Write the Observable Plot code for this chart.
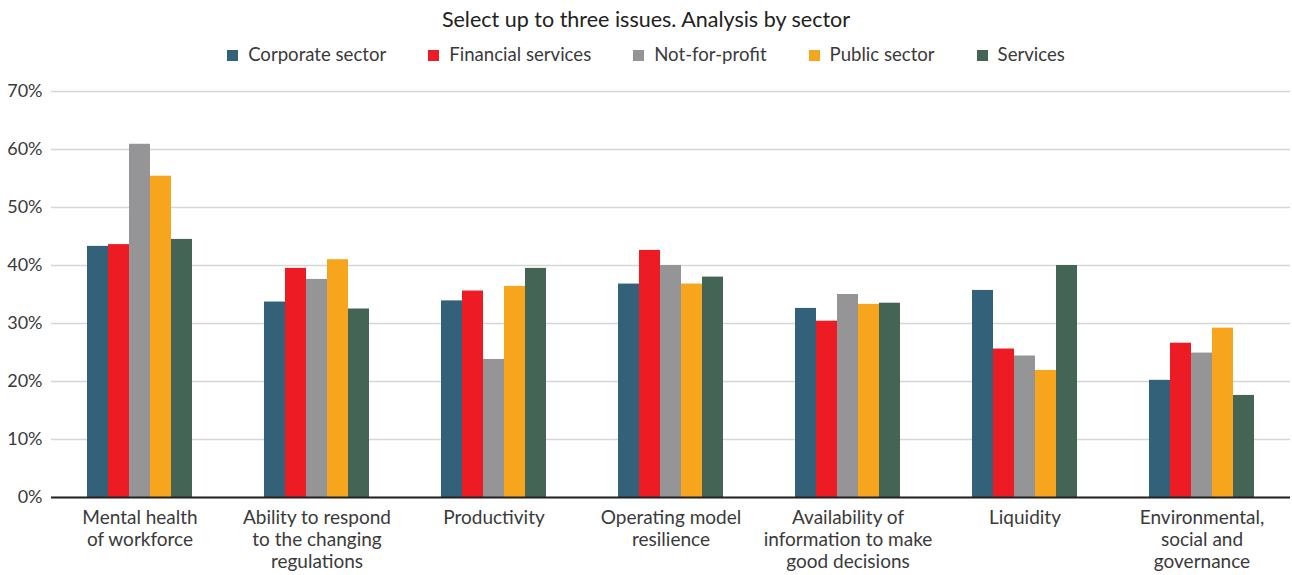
<!DOCTYPE html>
<html>
<head>
<meta charset="utf-8">
<script src="https://cdn.jsdelivr.net/npm/d3@7"></script>
<script src="https://cdn.jsdelivr.net/npm/@observablehq/plot@0.6"></script>
<style>
  body { margin: 0; background: #fff; font-family: Lato, "Noto Sans", sans-serif; color: #333; }
  #title { height: 36px; line-height: 36px; padding-top: 1px; text-align: center; font-size: 21.5px; font-weight: 400; color: #222; }
  #legend { height: 35px; line-height: 35px; text-align: center; font-size: 18.6px; color: #3a3a3a; }
  .item { display: inline-block; margin: 0 21px; }
  .sw { display: inline-block; width: 11px; height: 11px; margin-right: 10px; vertical-align: 0px; }
  svg { display: block; }
</style>
</head>
<body>
<div id="title">Select up to three issues. Analysis by sector</div>
<div id="legend"></div>
<div id="chart"></div>
<script>
const categories = [
  "Mental health of workforce",
  "Ability to respond to the changing regulations",
  "Productivity",
  "Operating model resilience",
  "Availability of information to make good decisions",
  "Liquidity",
  "Environmental, social and governance"
];
const tickLabels = [
  "Mental health\nof workforce",
  "Ability to respond\nto the changing\nregulations",
  "Productivity",
  "Operating model\nresilience",
  "Availability of\ninformation to make\ngood decisions",
  "Liquidity",
  "Environmental,\nsocial and\ngovernance"
];
const sectors = ["Corporate sector", "Financial services", "Not-for-profit", "Public sector", "Services"];
const colors = ["#336179", "#ED1C24", "#959598", "#F7A51D", "#446556"];

const corporate    = [43.3, 33.7, 33.9, 36.8, 32.6, 35.7, 20.2];
const financial    = [43.6, 39.5, 35.6, 42.6, 30.4, 25.6, 26.6];
const notForProfit = [60.9, 37.6, 23.8, 40.0, 35.0, 24.4, 24.9];
const publicSector = [55.4, 41.0, 36.4, 36.8, 33.3, 21.9, 29.2];
const services     = [44.5, 32.5, 39.5, 38.0, 33.5, 40.0, 17.6];

const yTicks = [0, 10, 20, 30, 40, 50, 60, 70];

const series = [corporate, financial, notForProfit, publicSector, services];
const table = [];
categories.forEach((c, i) => {
  sectors.forEach((s, j) => table.push({category: c, sector: s, value: series[j][i]}));
});

// legend
const legend = d3.select("#legend");
sectors.forEach((s, j) => {
  const it = legend.append("span").attr("class", "item");
  it.append("span").attr("class", "sw").style("background", colors[j]);
  it.append("span").text(s);
});

const chart = Plot.plot({
  width: 1292,
  height: 503,
  marginLeft: 49,
  marginRight: 1,
  marginTop: 19,
  marginBottom: 78,
  style: {fontFamily: "Lato, 'Noto Sans', sans-serif", fontSize: "17px", color: "#3a3a3a", background: "#fff"},
  fx: {domain: categories, padding: 0, label: null, axis: null},
  x: {domain: sectors, paddingInner: 0, paddingOuter: 1.65, axis: null},
  y: {domain: [0, 70], axis: null},
  color: {domain: sectors, range: colors},
  marks: [
    Plot.gridY(yTicks, {stroke: "#d6d6d6", strokeOpacity: 1, strokeWidth: 1.5}),
    Plot.barY(table, {fx: "category", x: "sector", y: "value", fill: "sector", inset: 0}),
    Plot.ruleY([0], {stroke: "#222", strokeWidth: 2}),
    Plot.axisY(yTicks, {tickSize: 0, tickPadding: 9, tickFormat: d => d + "%", fontSize: 18, fill: "#3a3a3a", label: null}),
    Plot.axisFx({anchor: "bottom", tickSize: 0, tickPadding: 11, tickFormat: d => tickLabels[categories.indexOf(d)], lineHeight: 1.16, label: null, fontSize: 19, fill: "#3a3a3a"})
  ]
});
document.getElementById("chart").appendChild(chart);
</script>
</body>
</html>
